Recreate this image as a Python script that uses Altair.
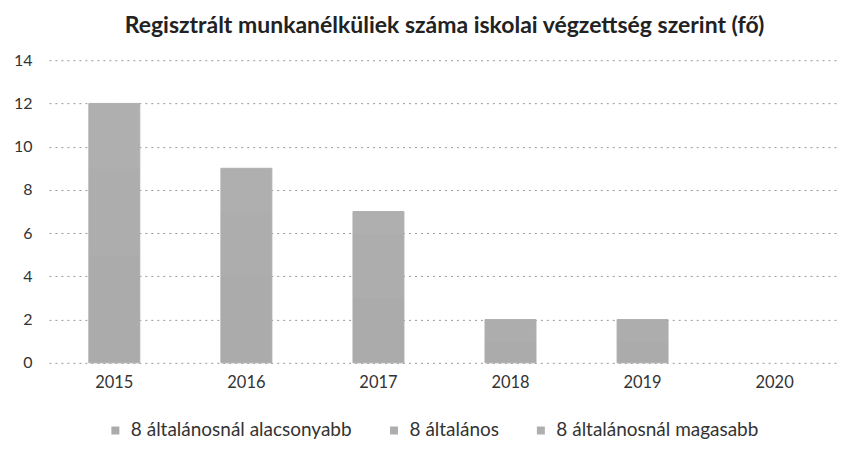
import altair as alt
import pandas as pd

years = ["2015", "2016", "2017", "2018", "2019", "2020"]
series = ["8 általánosnál alacsonyabb", "8 általános", "8 általánosnál magasabb"]
# stacked values per series (totals: 12, 9, 7, 2, 2, 0)
low = [5, 4, 3, 1, 1, 0]
mid = [4, 3, 3, 1, 1, 0]
high = [3, 2, 1, 0, 0, 0]
colors = ["#ababab", "#adadad", "#afafaf"]

rows = []
for i, y in enumerate(years):
    for s, vals in zip(series, [low, mid, high]):
        rows.append({"year": y, "series": s, "value": vals[i], "order": series.index(s)})
df = pd.DataFrame(rows)

FONT = "Lato"

chart = alt.Chart(df).transform_filter("datum.value > 0").mark_bar(size=51, strokeWidth=1).encode(
    x=alt.X("year:N", sort=years, title=None,
            scale=alt.Scale(domain=years, paddingInner=0.61, paddingOuter=0.3),
            axis=alt.Axis(labelAngle=0, labelFontSize=16.5, labelColor="#333",
                          labelFont=FONT, labelPadding=12, domain=False, ticks=False, grid=False)),
    y=alt.Y("value:Q", stack="zero", title=None,
            scale=alt.Scale(domain=[0, 14]),
            axis=alt.Axis(values=[0, 2, 4, 6, 8, 10, 12, 14], labelFontSize=16, labelColor="#333",
                          labelFont=FONT, labelPadding=17, domain=False, ticks=False,
                          grid=True, gridColor="#999999", gridDash=[2, 4], gridWidth=1)),
    color=alt.Color("series:N", sort=series, scale=alt.Scale(domain=series, range=colors),
                    legend=alt.Legend(title=None, orient="none", direction="horizontal",
                                      legendX=57, legendY=361, symbolType="square",
                                      symbolSize=64, labelFontSize=19, labelFont=FONT,
                                      labelLimit=0, labelOffset=6,
                                      labelColor="#333", columnPadding=32, symbolStrokeWidth=0)),
    stroke=alt.Stroke("series:N", sort=series, scale=alt.Scale(domain=series, range=colors),
                      legend=None),
    order=alt.Order("order:Q"),
).properties(
    width=792, height=303,
    title=alt.TitleParams("Regisztrált munkanélküliek száma iskolai végzettség szerint (fő)",
                          fontSize=23, font=FONT, fontWeight="bold", color="#222", offset=14,
                          anchor="middle"),
    autosize=alt.AutoSizeParams(type="none"),
    padding={"left": 41, "top": 52, "right": 0, "bottom": 85},
).configure_view(stroke=None)

chart.save("out.html", embed_options={"renderer": "svg", "actions": False})
